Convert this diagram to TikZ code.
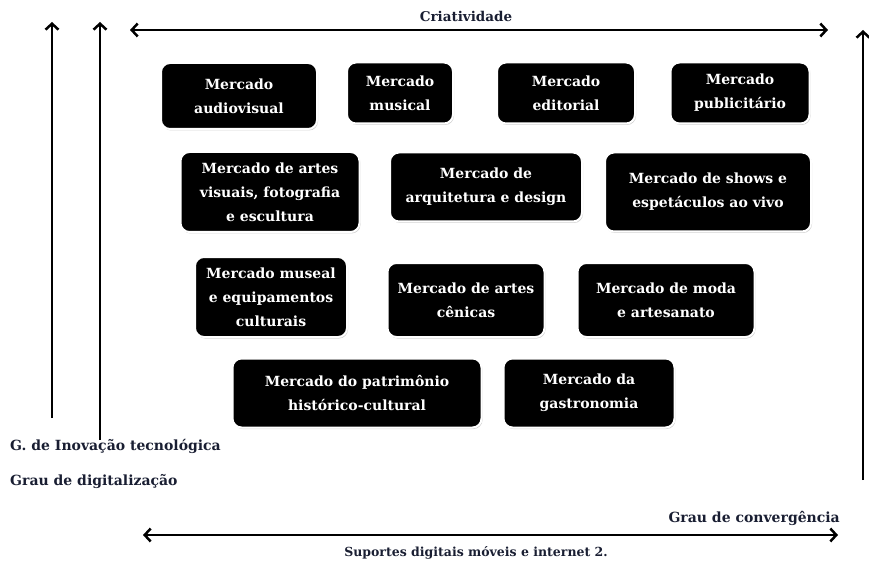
\documentclass[tikz,border=0pt]{standalone}
\usepackage{fontspec}
\setmainfont{DejaVu Serif}
\usetikzlibrary{arrows.meta,shadows}

\definecolor{tinta}{RGB}{25,30,50}
\tikzset{
  mercado/.style={fill=black, draw=white, line width=2pt, rounded corners=9pt,
    text=white, align=center, inner sep=2pt,
    font=\bfseries\fontsize{14}{24}\selectfont,
    drop shadow={shadow xshift=1pt, shadow yshift=-1.5pt, opacity=0.35, fill=gray}},
  eixo/.style={line width=2.5pt, -{Straight Barb[length=6pt,width=13pt,line width=2.5pt]}},
  eixoduplo/.style={line width=2.5pt, {Straight Barb[length=6pt,width=13pt,line width=2.5pt]}-{Straight Barb[length=6pt,width=13pt,line width=2.5pt]}},
  rotulo/.style={font=\bfseries\fontsize{14}{16}\selectfont, text=tinta, inner sep=1pt}
}

\begin{document}
\begin{tikzpicture}[x=1pt,y=-1pt]
        \useasboundingbox (0,0) rectangle (869,561);
        % eixos
        \coordinate (inovA) at (52,418);
        \coordinate (inovB) at (52,22);
        \coordinate (digA) at (100,440);
        \coordinate (digB) at (100,22);
        \coordinate (criatA) at (130,30);
        \coordinate (criatB) at (828,30);
        \coordinate (convA) at (863,480);
        \coordinate (convB) at (863,30);
        \coordinate (supA) at (143,535);
        \coordinate (supB) at (838,535);
        \draw[eixo] (inovA) -- (inovB);
        \draw[eixo] (digA) -- (digB);
        \draw[eixo] (convA) -- (convB);
        \draw[eixoduplo] (criatA) -- (criatB);
        \draw[eixoduplo] (supA) -- (supB);
        \node[rotulo, font=\bfseries\fontsize{13.5}{14}\selectfont] (criat) at (466,16) {Criatividade};
        \node[rotulo, anchor=west] (inov) at (9,446) {G. de Inovação tecnológica};
        \node[rotulo, anchor=west] (digit) at (9,482) {Grau de digitalização};
        \node[rotulo, anchor=east] (conv) at (841,518) {Grau de convergência};
        \node[rotulo, font=\bfseries\fontsize{12.5}{14}\selectfont] (suportes) at (476,553) {Suportes digitais móveis e internet 2.};
        % mercados
        \node[mercado, minimum width=156pt, minimum height=66pt] (audiovisual) at (239,96) {Mercado\\audiovisual};
        \node[mercado, minimum width=106pt, minimum height=61pt] (musical) at (400,93) {Mercado\\musical};
        \node[mercado, minimum width=138pt, minimum height=61pt] (editorial) at (566,93) {Mercado\\editorial};
        \node[mercado, minimum width=139pt, minimum height=61pt] (publicitario) at (740,93) {Mercado\\publicitário};
        \node[mercado, minimum width=179pt, minimum height=80pt] (visuais) at (270,192) {Mercado de artes\\visuais, fotografia\\e escultura};
        \node[mercado, minimum width=192pt, minimum height=69pt] (arquitetura) at (486,187) {Mercado de\\arquitetura e design};
        \node[mercado, minimum width=206pt, minimum height=79pt] (shows) at (708,192) {Mercado de shows  e\\espetáculos ao vivo};
        \node[mercado, minimum width=152pt, minimum height=80pt] (museal) at (271,297) {Mercado museal\\e equipamentos\\culturais};
        \node[mercado, minimum width=157pt, minimum height=74pt] (cenicas) at (466,300) {Mercado de artes\\cênicas};
        \node[mercado, minimum width=177pt, minimum height=74pt] (moda) at (666,300) {Mercado de moda\\e artesanato};
        \node[mercado, minimum width=249pt, minimum height=69pt] (patrimonio) at (357,393) {Mercado do patrimônio\\histórico-cultural};
        \node[mercado, minimum width=171pt, minimum height=69pt] (gastronomia) at (589,393) {Mercado da\\gastronomia};
\end{tikzpicture}
\end{document}
